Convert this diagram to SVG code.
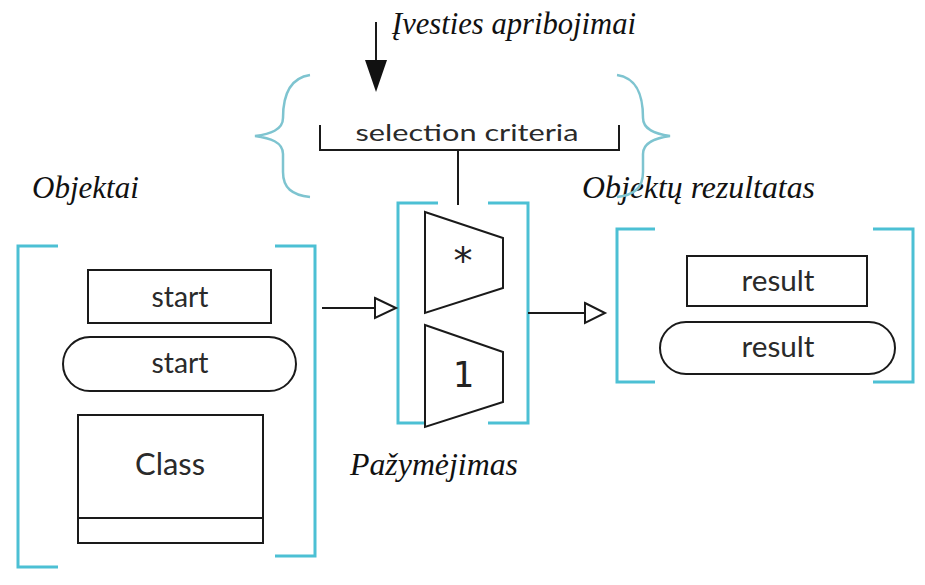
<svg xmlns="http://www.w3.org/2000/svg" width="925" height="585" viewBox="0 0 925 585">
<style>
.bk{fill:none;stroke:#4cc0d4;stroke-width:3}
.br{fill:none;stroke:#7ec4d0;stroke-width:2.5}
.sh{fill:#fff;stroke:#1a1a1a;stroke-width:2}
.ln{fill:none;stroke:#1a1a1a;stroke-width:2}
.t{font-family:Lato,"DejaVu Sans",sans-serif;fill:#2a2a2a;text-anchor:middle}
.it{font-family:"Liberation Serif","Times New Roman",serif;font-style:italic;font-size:31px;fill:#111}
</style>
<rect width="925" height="585" fill="#fff"/>
<g id="label-ivesties">
<text class="it" x="392" y="34" textLength="244" lengthAdjust="spacingAndGlyphs">Įvesties apribojimai</text>
</g>
<g id="label-objektai"><text class="it" x="32" y="198">Objektai</text></g>
<g id="label-rezultatas"><text class="it" x="582" y="198" textLength="233" lengthAdjust="spacingAndGlyphs">Objektų rezultatas</text></g>
<g id="label-pazymejimas"><text class="it" x="350" y="475" textLength="168" lengthAdjust="spacingAndGlyphs">Pažymėjimas</text></g>
<g id="braces">
<path class="br" d="M310,75 C290,78 283,95 283,118 C283,130 270,134 255,136 C270,138 283,142 283,154 L283,172 C283,188 292,195 310,197"/>
<path class="br" d="M617,75 C637,78 643,95 643,118 C643,130 656,134 670,136 C656,138 643,142 643,154 L643,172 C643,188 634,195 617,197"/>
</g>
<g id="criteria">
<path class="ln" d="M320,125 V150 H619 V125"/>
<text class="t" x="467" y="141" font-size="23" textLength="223" lengthAdjust="spacingAndGlyphs">selection criteria</text>
</g>
<g id="objects">
<path class="bk" d="M58,246 H18 V567 H58"/>
<path class="bk" d="M275,246 H315 V556 H275"/>
</g>
<g id="start-rect">
<rect class="sh" x="88" y="270" width="183" height="53"/>
<text class="t" x="180" y="307" font-size="28" textLength="57" lengthAdjust="spacingAndGlyphs">start</text>
</g>
<g id="start-pill">
<rect class="sh" x="63" y="337" width="233" height="54" rx="27" ry="27"/>
<text class="t" x="180" y="373" font-size="28" textLength="57" lengthAdjust="spacingAndGlyphs">start</text>
</g>
<g id="class">
<rect class="sh" x="78" y="415" width="185" height="128"/>
<line class="ln" x1="78" y1="518" x2="263" y2="518"/>
<text class="t" x="170" y="475" font-size="31" textLength="70" lengthAdjust="spacingAndGlyphs">Class</text>
</g>
<g id="selector">
<path class="bk" d="M438,203 H398 V423 H425"/>
<path class="bk" d="M488,203 H528 V423 H488"/>
<path class="sh" d="M425,212 L503,238 V288 L425,313 Z"/>
<text x="463" y="274" font-family="'DejaVu Sans',sans-serif" font-size="38" text-anchor="middle" fill="#222">*</text>
<path class="sh" d="M425,325 L503,352 V402 L425,427 Z"/>
<text x="463" y="387" font-family="'DejaVu Sans Mono','Liberation Mono',monospace" font-size="35" text-anchor="middle" fill="#222">1</text>
</g>
<g id="results">
<path class="bk" d="M655,229 H617 V382 H655"/>
<path class="bk" d="M873,229 H913 V382 H873"/>
</g>
<g id="result-rect">
<rect class="sh" x="687" y="256" width="180" height="50"/>
<text class="t" x="778" y="291" font-size="28" textLength="73" lengthAdjust="spacingAndGlyphs">result</text>
</g>
<g id="result-pill">
<rect class="sh" x="660" y="322" width="235" height="52" rx="26" ry="26"/>
<text class="t" x="778" y="357" font-size="28" textLength="73" lengthAdjust="spacingAndGlyphs">result</text>
</g>
<g id="connectors">
<line class="ln" x1="376" y1="22" x2="376" y2="62"/>
<polygon points="365,60 387,60 376,92" fill="#111"/>
<line class="ln" x1="458" y1="150" x2="458" y2="205"/>
<line class="ln" x1="322" y1="308" x2="375" y2="308"/>
<polygon class="sh" points="375,298 396,308 375,318"/>
<line class="ln" x1="528" y1="313" x2="585" y2="313"/>
<polygon class="sh" points="585,303 605,313 585,323"/>
</g>
</svg>
